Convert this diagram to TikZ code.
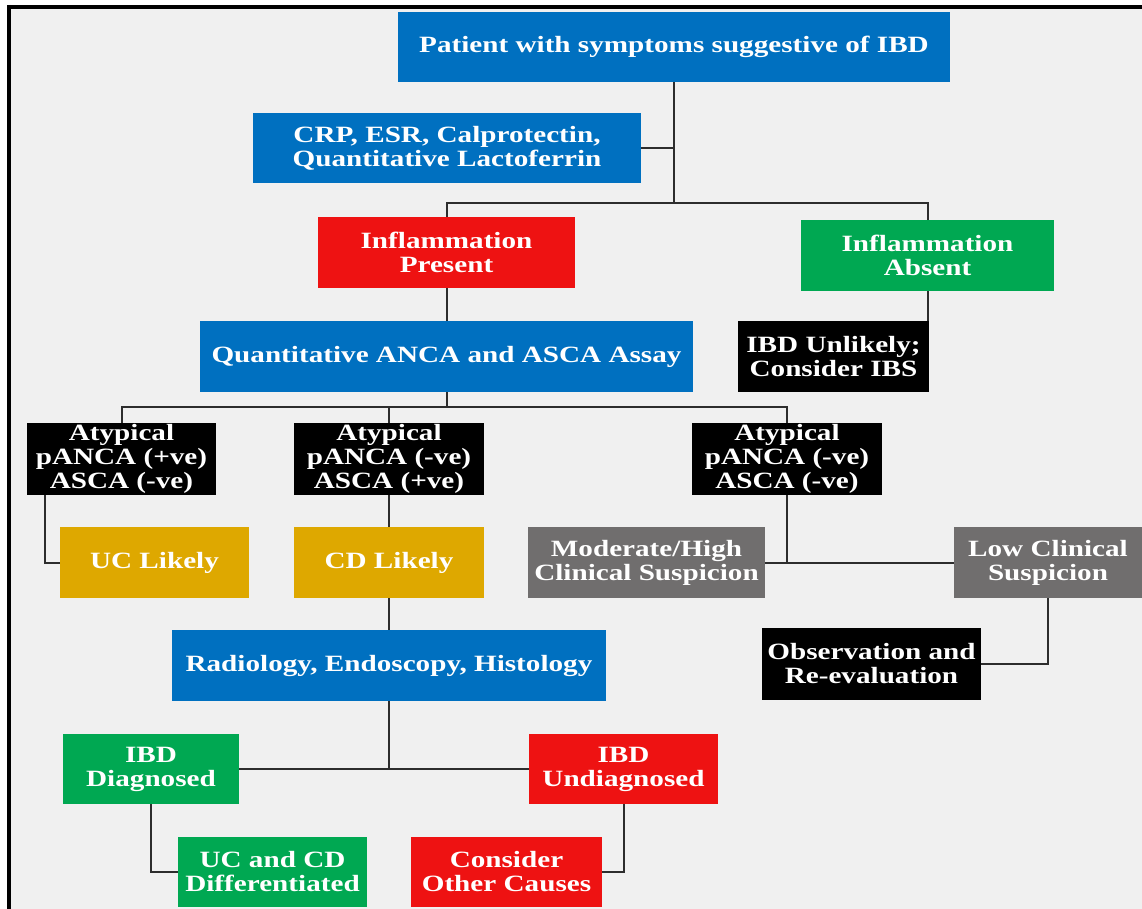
\documentclass[tikz,border=0pt]{standalone}
\usepackage{fontspec}
\setmainfont{Liberation Serif}[FakeStretch=1.25]
\usepackage{tikz}
\usetikzlibrary{calc,positioning}
\definecolor{bgclr}{RGB}{240,240,240}
\definecolor{linkclr}{RGB}{45,45,45}
\definecolor{fillBlue}{RGB}{0,112,192}
\definecolor{fillRed}{RGB}{238,18,18}
\definecolor{fillGreen}{RGB}{0,168,82}
\definecolor{fillGold}{RGB}{222,168,0}
\definecolor{fillGray}{RGB}{112,110,110}
\definecolor{fillBlack}{RGB}{0,0,0}
\tikzset{
  % Box shapes
  boxbase/.style   = {rectangle, inner sep=0pt, align=center, text=white,
                      font=\fontsize{17.5}{18}\selectfont\bfseries},
  boxsize/.style 2 args = {minimum width={#1*0.75pt}, minimum height={#2*0.75pt}},
  blueBox/.style   = {boxbase, fill=fillBlue},
  redBox/.style    = {boxbase, fill=fillRed},
  greenBox/.style  = {boxbase, fill=fillGreen},
  goldBox/.style   = {boxbase, fill=fillGold},
  grayBox/.style   = {boxbase, fill=fillGray},
  blackBox/.style  = {boxbase, fill=fillBlack},
  % Connectors
  link/.style      = {draw=linkclr, line width=1.5pt},
}

\begin{document}
\begin{tikzpicture}[x=0.75pt, y=-0.75pt]
  \useasboundingbox (0,0) rectangle (1142,909);
  % Background and frame
  \fill[white] (0,0) rectangle (1142,909);
  \fill[bgclr] (7,5) rectangle (1142,909);
  \draw[black, line width=3pt] (7,7) -- (1142,7);
  \draw[black, line width=3pt] (9,5) -- (9,909);
  % Top
  \node[blueBox, boxsize={552}{70}] (pat) at (674,47)
    {Patient with symptoms suggestive of IBD};
  \node[blueBox, boxsize={388}{70}] (crp) at (447,148)
    {CRP, ESR, Calprotectin,\\ Quantitative Lactoferrin};
  \node[redBox, boxsize={257}{71}] (infp) at (446.5,252.5)
    {Inflammation\\ Present};
  \node[greenBox, boxsize={253}{71}] (infa) at (927.5,255.5)
    {Inflammation\\ Absent};
  \node[blueBox, boxsize={493}{71}] (quant) at (446.5,356.5)
    {Quantitative ANCA and ASCA Assay};
  \node[blackBox, boxsize={191}{71}] (unlik) at (833.5,356.5)
    {IBD Unlikely;\\ Consider IBS};
  % Antibody results
  \node[blackBox, boxsize={189}{72}] (atypA) at (121.5,459)
    {Atypical\\ pANCA (+ve)\\ ASCA (-ve)};
  \node[blackBox, boxsize={190}{72}] (atypB) at (389,459)
    {Atypical\\ pANCA (-ve)\\ ASCA (+ve)};
  \node[blackBox, boxsize={190}{72}] (atypC) at (787,459)
    {Atypical\\ pANCA (-ve)\\ ASCA (-ve)};
  \node[goldBox, boxsize={189}{71}] (uc) at (154.5,562.5) {UC Likely};
  \node[goldBox, boxsize={190}{71}] (cd) at (389,562.5) {CD Likely};
  \node[grayBox, boxsize={237}{71}] (modhigh) at (646.5,562.5)
    {Moderate/High\\ Clinical Suspicion};
  \node[grayBox, boxsize={188}{71}] (low) at (1048,562.5)
    {Low Clinical\\ Suspicion};
  \node[blackBox, boxsize={219}{72}] (obs) at (871.5,664)
    {Observation and\\ Re-evaluation};
  % Work-up
  \node[blueBox, boxsize={434}{71}] (rad) at (389,665.5)
    {Radiology, Endoscopy, Histology};
  \node[greenBox, boxsize={176}{70}] (diag) at (151,769)
    {IBD\\ Diagnosed};
  \node[redBox, boxsize={189}{70}] (undiag) at (623.5,769)
    {IBD\\ Undiagnosed};
  \node[greenBox, boxsize={189}{70}] (ucdc) at (272.5,872)
    {UC and CD\\ Differentiated};
  \node[redBox, boxsize={191}{70}] (cons) at (506.5,872)
    {Consider\\ Other Causes};
  % Junctions
  \coordinate (j1) at (674,203);
  \coordinate (j2) at (446.5,407);
  % Connectors
  \draw[link] (pat.south) -- (j1);
  \draw[link] (crp.east) -- (crp.east -| j1);
  \draw[link] (infp.north) |- (j1) -| (infa.north);
  \draw[link] (infp.south) -- (quant.north);
  \draw[link] (infa.south) -- (infa.south |- unlik.north);
  \draw[link] (quant.south) -- (j2);
  \draw[link] (atypA.north) |- (j2) -| (atypC.north);
  \draw[link] (atypB.north) -- (atypB.north |- j2);
  \draw[link] ($(atypA.south)+(-77,0)$) |- (uc.west);
  \draw[link] (atypB.south) -- (cd.north);
  \draw[link] (atypC.south) -- (atypC.south |- modhigh.east);
  \draw[link] (modhigh.east) -- (low.west);
  \draw[link] (low.south) |- (obs.east);
  \draw[link] (cd.south) -- (rad.north);
  \draw[link] (rad.south) -- (rad.south |- diag.east);
  \draw[link] (diag.east) -- (undiag.west);
  \draw[link] (diag.south) |- (ucdc.west);
  \draw[link] (undiag.south) |- (cons.east);
\end{tikzpicture}
\end{document}
